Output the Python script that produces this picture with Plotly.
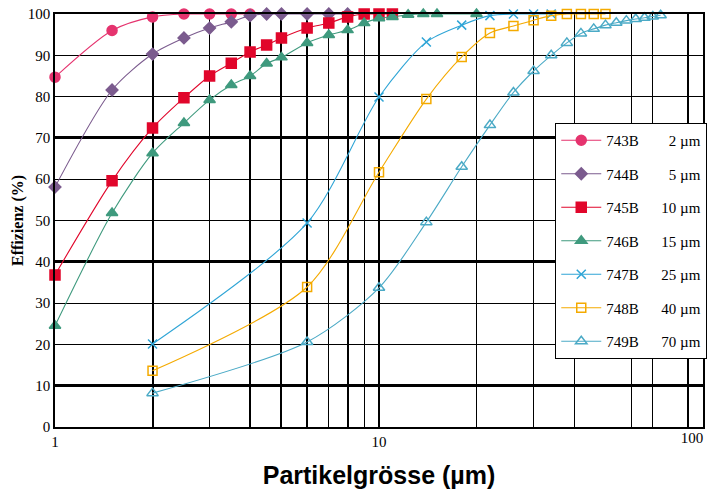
import plotly.graph_objects as go

# ---- data ----
series_names = ["743B", "744B", "745B", "746B", "747B", "748B", "749B"]
particle_labels = ["2 µm", "5 µm", "10 µm", "15 µm", "25 µm", "40 µm", "70 µm"]

x_743 = [1, 1.5, 2, 2.5, 3, 3.5, 4]
y_743 = [84.7, 96.0, 99.3, 100, 100, 100, 100]

x_744 = [1, 1.5, 2, 2.5, 3, 3.5, 4, 4.5, 5, 6, 7, 8]
y_744 = [58.1, 81.6, 90.3, 94.2, 96.6, 98.1, 99.6, 100, 100, 100, 100, 100]

x_745 = [1, 1.5, 2, 2.5, 3, 3.5, 4, 4.5, 5, 6, 7, 8, 9, 10, 11]
y_745 = [36.8, 59.6, 72.4, 79.7, 85.0, 88.1, 90.8, 92.5, 94.2, 96.6, 97.8, 99.3, 100, 100, 100]

x_746 = [1, 1.5, 2, 2.5, 3, 3.5, 4, 4.5, 5, 6, 7, 8, 9, 10, 11, 12.3, 13.7, 15.1, 20]
y_746 = [24.5, 51.8, 66.3, 73.6, 79.2, 82.8, 85.0, 88.0, 89.5, 93.0, 94.9, 96.1, 97.8, 99.0, 99.3, 99.8, 100, 100, 100]

x_747 = [2, 6, 10, 14, 18, 22, 26, 30, 34]
y_747 = [20.1, 49.4, 79.9, 93.2, 97.3, 99.6, 100, 100, 100]

x_748 = [2, 6, 10, 14, 18, 22, 26, 30, 34, 38, 42, 46, 50]
y_748 = [13.6, 33.9, 61.7, 79.4, 89.6, 95.4, 97.1, 98.5, 99.6, 100, 100, 100, 100]

x_749 = [2, 6, 10, 14, 18, 22, 26, 30, 34, 38, 42, 46, 50, 54, 58, 62, 66, 70, 74]
y_749 = [8.2, 20.6, 33.7, 49.6, 63.0, 73.1, 81.0, 86.2, 90.0, 93.0, 95.3, 96.4, 97.3, 97.9, 98.4, 98.8, 99.1, 99.4, 99.7]

# axis ticks / gridlines
x_label_vals = [1, 10]
x_end_label_vals = [100]
x_thin_grid = [3, 7, 9, 20, 30, 40, 60, 70]
x_thick_grid = [2, 4, 5, 6, 8, 10, 90]
y_ticks = [0, 10, 20, 30, 40, 50, 60, 70, 80, 90, 100]
y_thick_grid = [10, 40, 70, 100]

xs = [x_743, x_744, x_745, x_746, x_747, x_748, x_749]
ys = [y_743, y_744, y_745, y_746, y_747, y_748, y_749]
colors = ["#E5336E", "#7B5B8E", "#E1062B", "#3F9A7E", "#2FA5D6", "#F4AA00", "#4BAAC6"]
symbols = ["circle", "diamond", "square", "triangle-up", "x-thin-open", "square-open", "triangle-up-open"]
sizes = [10, 9, 10, 10, 9, 9, 10]

NB = "\u00a0"
pads = [8, 8, 6, 6, 6, 6, 6]

fig = go.Figure()
for i in range(len(series_names)):
    fig.add_trace(go.Scatter(
        x=xs[i], y=ys[i], mode="lines+markers",
        name=series_names[i] + NB * pads[i] + particle_labels[i],
        legendgroup=series_names[i],
        line=dict(color=colors[i], width=1.1, shape="spline", smoothing=0.8),
        marker=dict(symbol=symbols[i], size=sizes[i], color=colors[i],
                    line=dict(color=colors[i], width=1.5)),
        cliponaxis=False,
    ))

# empty helper traces so the overlay grid axes are drawn
fig.add_trace(go.Scatter(x=[], y=[], xaxis="x2", yaxis="y", showlegend=False, hoverinfo="skip"))
fig.add_trace(go.Scatter(x=[], y=[], xaxis="x", yaxis="y2", showlegend=False, hoverinfo="skip"))

tick_font = dict(family="Liberation Serif", size=15, color="black")

fig.update_layout(
    width=711, height=497,
    margin=dict(l=55, r=8, t=14, b=70, autoexpand=False),
    paper_bgcolor="white", plot_bgcolor="white",
    showlegend=True,
    legend=dict(
        x=0.772, y=0.736, xanchor="left", yanchor="top",
        bgcolor="white", bordercolor="black", borderwidth=1,
        font=dict(family="Liberation Serif", size=15, color="black"),
        traceorder="grouped", tracegroupgap=11, itemwidth=40,
    ),
    xaxis=dict(
        type="log", range=[0, 2], automargin=False, ticklabeloverflow="allow",
        tickmode="array",
        tickvals=x_label_vals + x_thin_grid,
        ticktext=[str(v) for v in x_label_vals] + [""] * len(x_thin_grid),
        ticks="", tickfont=tick_font,
        showgrid=True, gridcolor="black", gridwidth=1,
        showline=True, linecolor="black", linewidth=1.5, mirror=True,
        title=dict(text="<b>Partikelgrösse (µm)</b>",
                   font=dict(family="Liberation Sans", size=25, color="black"),
                   standoff=18),
        zeroline=False,
    ),
    xaxis2=dict(
        type="log", range=[0, 2], overlaying="x", anchor="y", side="bottom",
        automargin=False, ticklabeloverflow="allow",
        tickmode="array", tickvals=x_thick_grid + x_end_label_vals,
        ticktext=[""] * len(x_thick_grid) + [str(v) for v in x_end_label_vals],
        ticklabelshift=-11, tickfont=tick_font, ticks="",
        showgrid=True, gridcolor="black", gridwidth=2.2, showline=False,
    ),
    yaxis=dict(
        range=[0, 100], tickmode="array", tickvals=y_ticks, automargin=False,
        ticklabeloverflow="allow",
        ticks="", tickfont=tick_font,
        showgrid=True, gridcolor="black", gridwidth=1.3,
        showline=True, linecolor="black", linewidth=1.5, mirror=True,
        title=dict(text="<b>Effizienz (%)</b>",
                   font=dict(family="Liberation Serif", size=16, color="black"),
                   standoff=0),
        zeroline=False,
    ),
    yaxis2=dict(
        range=[0, 100], overlaying="y", anchor="x", automargin=False,
        tickmode="array", tickvals=y_thick_grid, showticklabels=False, ticks="",
        showgrid=True, gridcolor="black", gridwidth=2.6, showline=False,
        zeroline=False,
    ),
)

fig.write_html("out.html", config={"displayModeBar": False},
               post_script="document.body.style.margin='0px';")
